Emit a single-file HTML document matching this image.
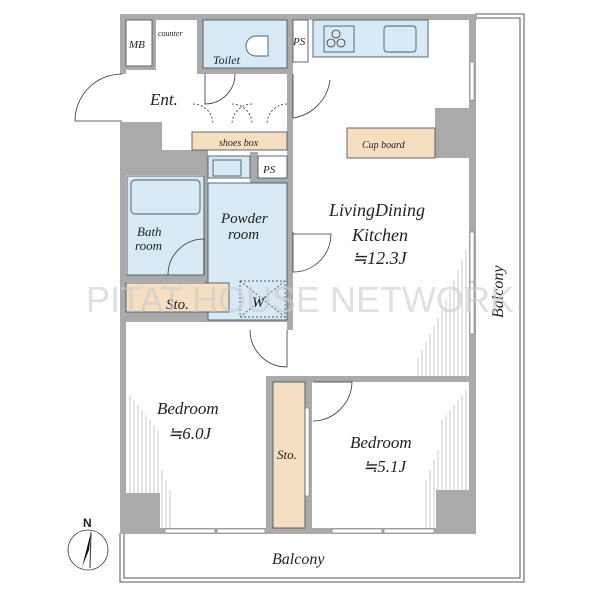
<!DOCTYPE html>
<html><head><meta charset="utf-8"><style>
html,body{margin:0;padding:0;background:#fff;width:600px;height:600px;overflow:hidden}
text{font-family:"Liberation Serif",serif;font-style:italic;fill:#222}
</style></head><body>
<svg width="600" height="600" viewBox="0 0 600 600" xmlns="http://www.w3.org/2000/svg">
<g fill="none" stroke="#555" stroke-width="1">
<polyline points="475,14 524,14 524,582 120,582 120,533"/>
<polyline points="475,18 520,18 520,578 124,578 124,533"/>
</g>
<!-- hatch -->
<g stroke="#bbb" stroke-width="0.8">
<path d="M130,395 V493 M134,400 V493 M138,405 V493 M142,410 V493 M146,415 V493 M150,420 V493 M154,425 V493 M158,430 V528 M162,470 V528 M166,480 V528 M170,490 V528"/>
<path d="M466,390 V490 M462,395 V490 M458,400 V490 M454,405 V490 M450,410 V490 M446,415 V490 M442,420 V490 M438,450 V528 M434,460 V528 M430,470 V528 M426,480 V528"/>
<path d="M466,250 V376 M462,260 V376 M458,270 V376 M454,280 V376 M450,290 V376 M446,300 V376 M442,310 V376 M438,318 V376 M434,326 V376 M430,334 V376 M426,342 V376 M422,350 V376 M418,358 V376"/>
</g>
<g fill="#aaa">
<rect x="120" y="14" width="357" height="6"/>
<rect x="120" y="14" width="6" height="60"/>
<rect x="120" y="122" width="6" height="411"/>
<rect x="469" y="14" width="7" height="519"/>
<rect x="120" y="528" width="356" height="6"/>
<rect x="120" y="122" width="42" height="30"/>
<rect x="120" y="150" width="88" height="25"/>
<rect x="152" y="20" width="4" height="48"/>
<rect x="126" y="66" width="30" height="4"/>
<rect x="197" y="20" width="6" height="54"/>
<rect x="197" y="68" width="92" height="6"/>
<rect x="287" y="14" width="6" height="316"/>
<rect x="204" y="150" width="4" height="172"/>
<rect x="120" y="275" width="88" height="7"/>
<rect x="120" y="312" width="170" height="10"/>
<rect x="435" y="108" width="40" height="50"/>
<rect x="287" y="376" width="188" height="6"/>
<rect x="266" y="376" width="46" height="6"/>
<rect x="266" y="376" width="7" height="158"/>
<rect x="305" y="376" width="7" height="158"/>
<rect x="122" y="493" width="38" height="40"/>
<rect x="436" y="490" width="39" height="43"/>
<rect x="250" y="152" width="8" height="30"/>
<rect x="250" y="178" width="37" height="5"/>
</g>
<g fill="#fff" stroke="#888" stroke-width="0.7">
<rect x="470" y="62" width="4" height="38"/>
<rect x="470" y="232" width="4" height="50"/>
<rect x="470" y="282" width="4" height="52"/>
<rect x="165" y="529" width="50" height="4"/>
<rect x="217" y="529" width="48" height="4"/>
<rect x="332" y="529" width="50" height="4"/>
<rect x="384" y="529" width="50" height="4"/>
<rect x="305" y="408" width="4" height="88"/>
</g>
<g stroke="#4a5a66" stroke-width="0.9">
<rect x="126" y="20" width="26" height="46" fill="#fff"/>
<rect x="203" y="20" width="84" height="48" fill="#d6e9f5"/>
<rect x="293" y="20" width="15" height="42" fill="#fff"/>
<rect x="313" y="20" width="115" height="37" fill="#d6e9f5"/>
<rect x="192" y="132" width="95" height="18" fill="#f5dfc0"/>
<rect x="347" y="128" width="88" height="30" fill="#f5dfc0"/>
<rect x="127" y="176" width="77" height="99" fill="#d6e9f5"/>
<rect x="208" y="183" width="79" height="137" fill="#d6e9f5"/>
<rect x="208" y="156" width="42" height="22" fill="#d6e9f5"/>
<rect x="258" y="156" width="29" height="22" fill="#fff"/>
<rect x="126" y="283" width="103" height="29" fill="#f5dfc0"/>
<rect x="273" y="382" width="32" height="146" fill="#f5dfc0"/>
<rect x="131" y="180" width="69" height="34" rx="4" fill="#d6e9f5"/>
<rect x="213" y="160" width="28" height="16" fill="#d6e9f5"/>
<rect x="240" y="281" width="45" height="36" fill="#d6e9f5" stroke-dasharray="2,2"/>
<line x1="240" y1="281" x2="285" y2="317" stroke-dasharray="2,2"/>
<line x1="285" y1="281" x2="240" y2="317" stroke-dasharray="2,2"/>
<rect x="324" y="26" width="30" height="26" fill="#d6e9f5"/>
<rect x="384" y="26" width="32" height="26" rx="3" fill="#d6e9f5"/>
<path d="M268,36 h-12 a10,10 0 0 0 0,20 h12 z" fill="#fff"/>
</g>
<g fill="none" stroke="#333" stroke-width="0.8">
<path d="M75,121 H122 M75,121 A47,47 0 0 1 122,74"/>
<path d="M205,74 V104 A30,30 0 0 0 235,74"/>
<path d="M293,74 V118 A44,44 0 0 0 330,80"/>
<path d="M293,232 V272 A38,38 0 0 0 331,234 H293"/>
<path d="M168,275 A36,36 0 0 1 204,239 V275"/>
<path d="M250,330 A37,37 0 0 0 287,367 V330"/>
<path d="M313,382 H352 A40,40 0 0 1 313,421"/>
<path d="M193,104 A20,20 0 0 1 213,124 M232,104 A20,20 0 0 1 252,124 M252,104 A20,20 0 0 0 232,124 M287,104 A20,20 0 0 0 267,124" stroke-dasharray="2,2"/>
<circle cx="336" cy="34" r="4"/><circle cx="331" cy="43" r="4"/><circle cx="341" cy="43" r="4"/>
<circle cx="88" cy="550" r="20"/>
</g>
<path d="M91,532 L82,567 L89,550 Z" fill="#111"/>
<line x1="91" y1="532" x2="90" y2="568" stroke="#333"/>
<text x="83" y="527" font-size="12" style="font-style:normal;font-family:'Liberation Sans',sans-serif;font-weight:bold">N</text>
<text x="129" y="48" font-size="11">MB</text>
<text x="158" y="36" font-size="8">counter</text>
<text x="213" y="64" font-size="12">Toilet</text>
<text x="293" y="45" font-size="11">PS</text>
<text x="150" y="105" font-size="17">Ent.</text>
<text x="219" y="146" font-size="10">shoes box</text>
<text x="362" y="148" font-size="10">Cup board</text>
<text x="263" y="173" font-size="11">PS</text>
<text x="221" y="223" font-size="15">Powder</text>
<text x="228" y="239" font-size="15">room</text>
<text x="137" y="236" font-size="13">Bath</text>
<text x="135" y="250" font-size="13">room</text>
<text x="329" y="216" font-size="18">LivingDining</text>
<text x="352" y="241" font-size="18">Kitchen</text>
<text x="352" y="264" font-size="18">≒12.3J</text>
<text x="166" y="309" font-size="15">Sto.</text>
<text x="252" y="307" font-size="15">W</text>
<text x="157" y="414" font-size="17">Bedroom</text>
<text x="168" y="439" font-size="17">≒6.0J</text>
<text x="277" y="459" font-size="13">Sto.</text>
<text x="350" y="448" font-size="17">Bedroom</text>
<text x="363" y="472" font-size="17">≒5.1J</text>
<text x="272" y="564" font-size="16">Balcony</text>
<text transform="translate(503,318) rotate(-90)" font-size="16">Balcony</text>
<text x="86" y="312" font-size="36" textLength="428" style="font-style:normal;font-family:'Liberation Sans',sans-serif;fill:#ccc;opacity:0.6">PITAT HOUSE NETWORK</text>
</svg>
</body></html>
